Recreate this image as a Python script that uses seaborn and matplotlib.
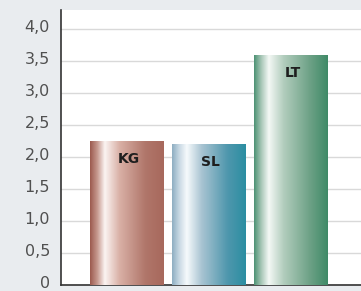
import numpy as np
import pandas as pd
import matplotlib
matplotlib.use("Agg")
import matplotlib.pyplot as plt
from matplotlib.colors import LinearSegmentedColormap
from matplotlib.ticker import FuncFormatter, MultipleLocator
from matplotlib.transforms import ScaledTranslation
import seaborn as sns

categories = ["KG", "SL", "LT"]
values = [2.25, 2.2, 3.6]

# gradient stops per bar (left edge -> highlight -> right side)
bar_gradients = {
    "KG": ["#9b5a4e", "#c79a90", "#fbf4f2", "#d9b0a6", "#b0766a", "#a7685c"],
    "SL": ["#8eaec2", "#c9d9e4", "#f6fafc", "#a9c4d2", "#4f97ad", "#2b8ea2"],
    "LT": ["#4d9274", "#a9c8b8", "#f4f8f5", "#b2cdbd", "#6ea287", "#3f8a67"],
}
stops = [0.0, 0.1, 0.2, 0.4, 0.75, 1.0]


def tick_fmt(v, pos):
    if abs(v) < 1e-9:
        return "0"
    return f"{v:.1f}".replace(".", ",")


def main():
    sns.set_theme(style="white")
    plt.rcParams["font.family"] = ["DejaVu Sans"]

    df = pd.DataFrame({"group": categories, "value": values})

    fig = plt.figure(figsize=(3.61, 2.91), dpi=100)
    fig.patch.set_facecolor("#e9ecef")
    ax = fig.add_axes([61 / 361, 6 / 291, 300 / 361, 275 / 291])
    ax.set_facecolor("white")

    sns.barplot(data=df, x="group", y="value", ax=ax, width=0.9,
                color="white", edgecolor="none", linewidth=0, zorder=2)

    for patch, name in zip(ax.patches, categories):
        cmap = LinearSegmentedColormap.from_list(
            name, list(zip(stops, bar_gradients[name])))
        x0, w, h = patch.get_x(), patch.get_width(), patch.get_height()
        grad = np.linspace(0, 1, 256).reshape(1, -1)
        im = ax.imshow(grad, cmap=cmap, aspect="auto",
                       extent=[x0, x0 + w, 0, h], zorder=3)
        im.set_clip_path(patch)
        ax.text(x0 + w / 2 + 0.02, h - 0.17, name, ha="center", va="top",
                fontsize=10, fontweight="bold", color="#1e1e1e", zorder=4)

    ax.set_xlim(-0.805, 2.85)
    ax.set_ylim(0, 4.30)
    ax.yaxis.set_major_locator(MultipleLocator(0.5))
    ax.yaxis.set_major_formatter(FuncFormatter(tick_fmt))
    ax.grid(axis="y", color="#d9d9d9", linewidth=1.0, zorder=0)
    ax.set_axisbelow(True)
    ax.set_xticks([])
    ax.set_xlabel("")
    ax.set_ylabel("")
    ax.tick_params(axis="y", length=0, pad=8, labelsize=11.5, labelcolor="#505050")

    for side in ["top", "right"]:
        ax.spines[side].set_visible(False)
    for side in ["left", "bottom"]:
        ax.spines[side].set_color("#333333")
        ax.spines[side].set_linewidth(1.2)

    # nudge tick labels up a little so "0" stays inside the figure
    shift = ScaledTranslation(0, 3.5 / 100, fig.dpi_scale_trans)
    for lbl in ax.get_yticklabels():
        lbl.set_transform(lbl.get_transform() + shift)

    fig.savefig("out.png", dpi=100, facecolor=fig.get_facecolor())


if __name__ == "__main__":
    main()
